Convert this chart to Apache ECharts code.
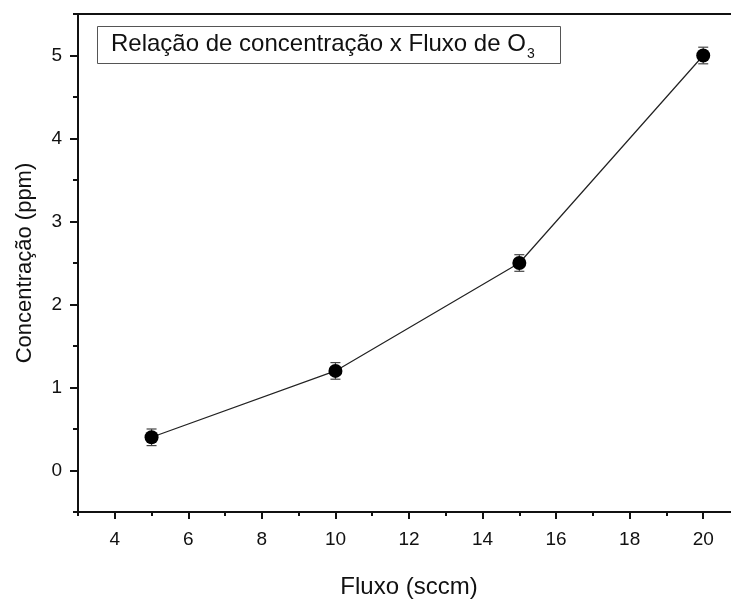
<!DOCTYPE html>
<html>
<head>
<meta charset="utf-8">
<script src="https://cdn.jsdelivr.net/npm/echarts@6/dist/echarts.min.js"></script>
<style>
  html, body { margin: 0; padding: 0; background: #fff; }
  #chart { width: 731px; height: 602px; }
</style>
</head>
<body>
<div id="chart"></div>
<script>
// Ozone flow vs. measured concentration
const fluxo = [5, 10, 15, 20];            // sccm
const concentracao = [0.4, 1.2, 2.5, 5.0]; // ppm
const erro = [0.1, 0.1, 0.1, 0.1];         // ppm, +/- error

const FONT = '"Liberation Sans", Arial, sans-serif';
const X_MIN = 3, X_MAX = 21;
const Y_MIN = -0.5, Y_MAX = 5.5;

const points = fluxo.map((x, i) => [x, concentracao[i]]);
const errorData = fluxo.map((x, i) => [x, concentracao[i] - erro[i], concentracao[i] + erro[i]]);

const chart = echarts.init(document.getElementById('chart'), null, { renderer: 'canvas' });

chart.setOption({
  animation: false,
  backgroundColor: '#fff',
  textStyle: { fontFamily: FONT },
  title: {
    left: 97,
    top: 30,
    padding: [6, 26, 3, 14],
    borderColor: '#555',
    borderWidth: 1,
    text: '{m|Relação de concentração x Fluxo de O}{s|3}',
    textStyle: {
      fontWeight: 'normal',
      rich: {
        m: { fontFamily: FONT, fontSize: 24, fontWeight: 'normal', color: '#111', lineHeight: 25, padding: [0, 0, 5, 0], verticalAlign: 'bottom' },
        s: { fontFamily: FONT, fontSize: 14, fontWeight: 'normal', color: '#111', lineHeight: 16, padding: [0, 0, 0, 1], verticalAlign: 'bottom' }
      }
    }
  },
  grid: { left: 78, top: 14, right: -9, bottom: 90, containLabel: false, outerBoundsMode: 'none' },
  xAxis: [
    {
      // main bottom axis: labels and major ticks
      type: 'value', min: X_MIN, max: X_MAX, splitNumber: 9,
      position: 'bottom',
      name: 'Fluxo (sccm)', nameLocation: 'middle', nameGap: 63,
      nameTextStyle: { fontFamily: FONT, fontSize: 24, color: '#111' },
      axisLine: { show: true, onZero: false, lineStyle: { color: '#111', width: 2 } },
      axisTick: { show: true, inside: false, length: 7, lineStyle: { color: '#111', width: 2 } },
      axisLabel: { fontFamily: FONT, fontSize: 19, color: '#111', margin: 18, showMinLabel: false, showMaxLabel: false },
      splitLine: { show: false }
    },
    {
      // minor ticks every 1 unit
      type: 'value', min: X_MIN, max: X_MAX, interval: 1,
      position: 'bottom',
      axisLine: { show: false, onZero: false },
      axisTick: { show: true, inside: false, length: 4, lineStyle: { color: '#111', width: 2 } },
      axisLabel: { show: false },
      splitLine: { show: false }
    },
    {
      // top frame line
      type: 'value', min: X_MIN, max: X_MAX,
      position: 'top',
      axisLine: { show: true, onZero: false, lineStyle: { color: '#111', width: 2 } },
      axisTick: { show: false },
      axisLabel: { show: false },
      splitLine: { show: false }
    }
  ],
  yAxis: [
    {
      type: 'value', min: Y_MIN, max: Y_MAX, splitNumber: 6,
      position: 'left',
      name: 'Concentração (ppm)', nameLocation: 'middle', nameGap: 42,
      nameTextStyle: { fontFamily: FONT, fontSize: 22, color: '#111' },
      axisLine: { show: true, onZero: false, lineStyle: { color: '#111', width: 2 } },
      axisTick: { show: true, inside: false, length: 8, lineStyle: { color: '#111', width: 2 } },
      axisLabel: { fontFamily: FONT, fontSize: 19, color: '#111', margin: 16, showMinLabel: false, showMaxLabel: false },
      splitLine: { show: false }
    },
    {
      // minor ticks every 0.5
      type: 'value', min: Y_MIN, max: Y_MAX, interval: 0.5,
      position: 'left',
      axisLine: { show: false, onZero: false },
      axisTick: { show: true, inside: false, length: 5, lineStyle: { color: '#111', width: 2 } },
      axisLabel: { show: false },
      splitLine: { show: false }
    }
  ],
  series: [
    {
      type: 'line',
      xAxisIndex: 0, yAxisIndex: 0,
      data: points,
      symbol: 'circle',
      symbolSize: 14,
      itemStyle: { color: '#000' },
      lineStyle: { color: '#222', width: 1.2 },
      z: 3
    },
    {
      type: 'custom',
      xAxisIndex: 0, yAxisIndex: 0,
      data: errorData,
      encode: { x: 0, y: [1, 2] },
      z: 2,
      renderItem: function (params, api) {
        const x = api.value(0);
        const lo = api.coord([x, api.value(1)]);
        const hi = api.coord([x, api.value(2)]);
        const hw = 5;
        const style = { stroke: '#444', lineWidth: 1.2 };
        return {
          type: 'group',
          children: [
            { type: 'line', shape: { x1: lo[0], y1: lo[1], x2: hi[0], y2: hi[1] }, style },
            { type: 'line', shape: { x1: lo[0] - hw, y1: lo[1], x2: lo[0] + hw, y2: lo[1] }, style },
            { type: 'line', shape: { x1: hi[0] - hw, y1: hi[1], x2: hi[0] + hw, y2: hi[1] }, style }
          ]
        };
      }
    }
  ]
});
</script>
</body>
</html>
